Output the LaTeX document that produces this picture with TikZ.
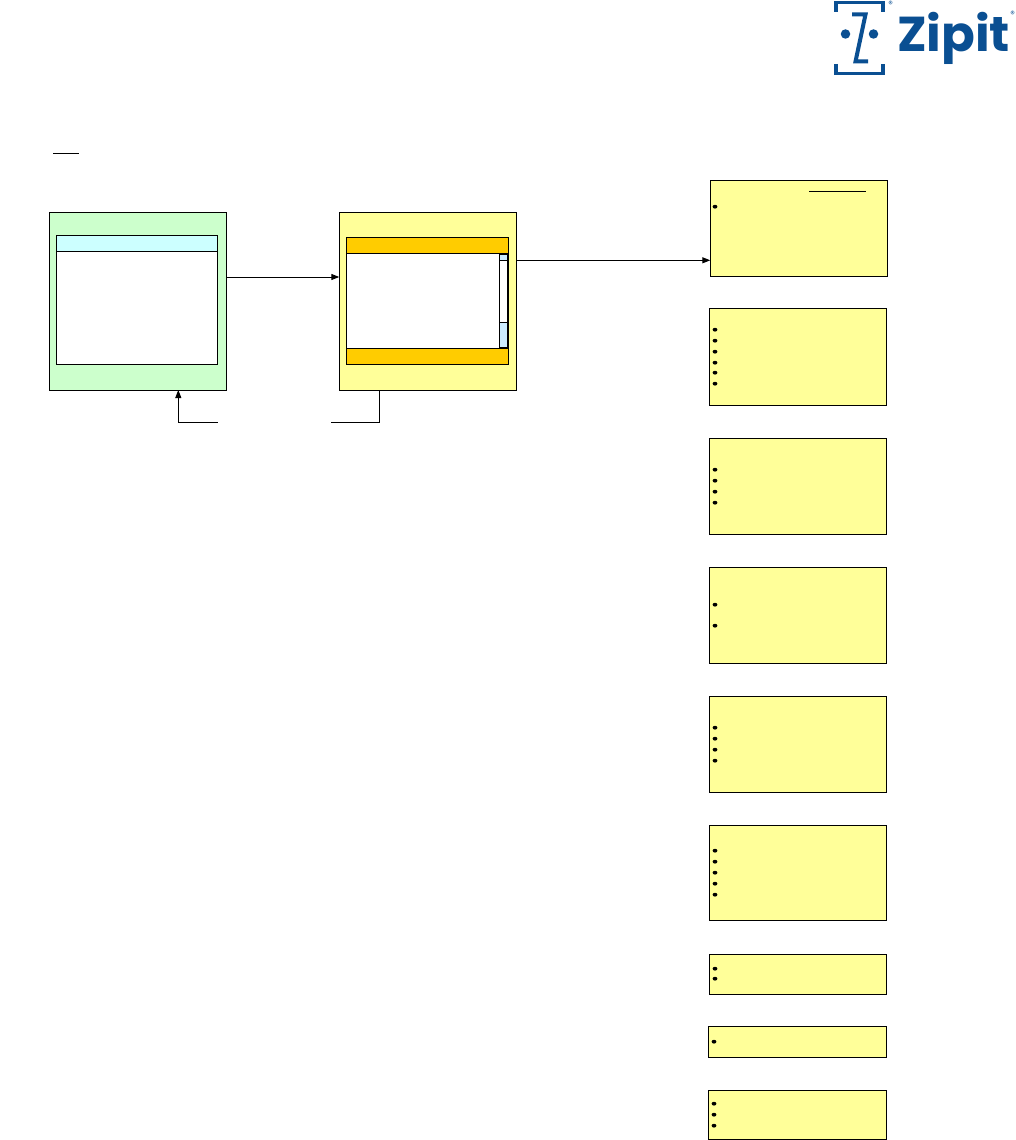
\documentclass[tikz,border=0pt]{standalone}
\usepackage{fontspec}
\setmainfont{Poppins}
\usetikzlibrary{arrows.meta,shapes.geometric}
\definecolor{zblue}{HTML}{0A4F92}
\definecolor{pgreen}{HTML}{CCFFCC}
\definecolor{pyellow}{HTML}{FFFF99}
\definecolor{porange}{HTML}{FFCC00}
\definecolor{pcyan}{HTML}{CCFFFF}
\definecolor{pblue}{HTML}{CCECFF}
\tikzset{
  boxbase/.style={draw=black,line width=1pt,inner sep=0pt,outer sep=0pt,anchor=north west},
  greenbox/.style={boxbase,fill=pgreen},
  yellowbox/.style={boxbase,fill=pyellow},
  whitebox/.style={boxbase,fill=white},
  orangebar/.style={boxbase,fill=porange},
  cyanbar/.style={boxbase,fill=pcyan},
  bluebar/.style={boxbase,fill=pblue},
  dotmark/.style={ellipse,fill=black,inner sep=0pt,minimum width=4.8pt,minimum height=3.8pt},
  link/.style={line width=1pt,draw=black},
  linkarrow/.style={link,-{Stealth[length=8pt,width=6pt,inset=0pt]}},
  logoline/.style={line width=3.4pt,draw=zblue},
  logodot/.style={circle,fill=zblue,inner sep=0pt,minimum size=9.5pt},
  logotext/.style={text=zblue,inner sep=0pt,anchor=base west,xscale=1.015,font=\fontsize{49}{49}\selectfont\bfseries},
  regmark/.style={text=zblue,inner sep=0pt,font=\fontsize{9}{9}\selectfont}
}
\newcommand{\bx}[6]{\node[#2,minimum width=#5pt,minimum height=#6pt] (#1) at (#3,#4) {};}
\begin{document}
\begin{tikzpicture}[x=1pt,y=-1pt]
\useasboundingbox (0,0) rectangle (1016,1140);
% logo
\draw[logoline] (836,12) -- (836,2.5) -- (883,2.5) -- (883,12);
\draw[logoline] (836,64) -- (836,73.5) -- (883,73.5) -- (883,64);
\draw[logoline,line width=4pt] (852,14.5) -- (865.5,14.5) -- (855.5,61.5) -- (868,61.5);
\node[logodot] (dotL) at (845.5,34) {};
\node[logodot] (dotR) at (873.5,34) {};
\node[logotext] (zipit) at (897,51.7) {Zipit};
\node[regmark] (regA) at (890.7,4.5) {®};
\node[regmark] (regB) at (1012.7,14) {®};
% underline
\coordinate (ulA) at (53,153.7);
\coordinate (ulB) at (78.7,153.7);
\draw[link] (ulA) -- (ulB);
% green panel
\bx{green}{greenbox}{49.3}{212.3}{177}{177.7}
\bx{ginner}{whitebox}{56.3}{235.3}{161.4}{129}
\bx{ghead}{cyanbar}{56.3}{235.3}{161.4}{16}
% yellow panel
\bx{yellow}{yellowbox}{339.3}{212.7}{177}{177.6}
\bx{yinner}{whitebox}{346.3}{237.3}{162}{127}
\bx{ytop}{orangebar}{346.3}{237.3}{162}{16}
\bx{ybot}{orangebar}{346.3}{348.3}{162}{16}
\bx{strack}{whitebox}{499.3}{254.3}{8.4}{93.4}
\bx{sup}{bluebar}{499.3}{254.3}{8.4}{6}
\bx{sdown}{bluebar}{499.3}{322.3}{8.4}{25.4}
\draw[line width=1.4pt] (strack.north east) -- (strack.south east);
% note boxes
\bx{b1}{yellowbox}{710.3}{180.3}{177}{96}
\bx{b2}{yellowbox}{709.3}{308.3}{177}{97}
\bx{b3}{yellowbox}{709.3}{438.3}{177}{96}
\bx{b4}{yellowbox}{709.3}{567.3}{177}{96}
\bx{b5}{yellowbox}{709.3}{696.3}{177}{96}
\bx{b6}{yellowbox}{709.3}{825.3}{177}{95}
\bx{b7}{yellowbox}{709.3}{954.3}{177}{40}
\bx{b8}{yellowbox}{708.3}{1026.3}{178}{31}
\bx{b9}{yellowbox}{708.3}{1090.3}{178}{49}
% underline in b1
\coordinate (uoA) at (809,191.3);
\coordinate (uoB) at (865.7,191.3);
\draw[link] (uoA) -- (uoB);
% bullets
\foreach \y [count=\i] in {206.7,329.7,340.7,351.7,362.7,372.7,383.7,469.7,480.7,491.7,502.7,604.7,625.7,727.7,738.7,749.7,760.7,850.7,861.7,872.7,883.7,894.7,968.7,978.7}
  \node[dotmark] (bu\i) at (715,\y) {};
\foreach \y [count=\i] in {1041.7,1103.7,1114.7,1125.7}
  \node[dotmark] (bv\i) at (714,\y) {};
% connectors
\coordinate (c1) at (280,277);
\draw[linkarrow] (green.east |- c1) -- (yellow.west |- c1);
\coordinate (c2) at (600,260.3);
\draw[linkarrow] (yellow.east |- c2) -- (b1.west |- c2);
\coordinate (gapR) at (331,422.3);
\coordinate (gapL) at (217.7,422.3);
\coordinate (ret) at (379.3,300);
\coordinate (ent) at (178.3,300);
\draw[link] (yellow.south -| ret) |- (gapR);
\draw[linkarrow] (gapL) -| (green.south -| ent);
\end{tikzpicture}
\end{document}
